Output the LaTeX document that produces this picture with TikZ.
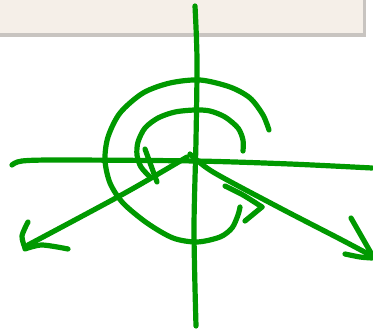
\documentclass[tikz,border=0pt]{standalone}
\begin{document}
\begin{tikzpicture}[x=1pt,y=-1pt]
\definecolor{pen}{RGB}{0,153,0}
\definecolor{boxfill}{RGB}{245,239,232}
\definecolor{boxedge}{RGB}{200,196,192}
\tikzset{ink/.style={draw=pen,line width=5.2pt,line cap=round,line join=round}}
\useasboundingbox (0,0) rectangle (373,331);
\fill[white] (0,0) rectangle (373,331);
% top box
\fill[boxedge] (-5,-5) rectangle (366,37);
\fill[boxfill] (-5,-5) rectangle (363,33);
% vertical axis
\draw[ink] plot[smooth] coordinates {(195,6) (197,60) (196,140) (194,230) (196,326)};
% horizontal axis
\draw[ink] plot[smooth] coordinates {(12,165) (22,161) (60,160) (195,161) (290,164) (372,168)};
% left diagonal with arrow
\draw[ink] plot[smooth] coordinates {(187,157) (125,193) (28,245)};
\draw[ink] plot[smooth] coordinates {(28,222) (22,236) (25,248)};
\draw[ink] plot[smooth] coordinates {(25,249) (42,245) (68,249)};
% right diagonal with arrow
\draw[ink] plot[smooth] coordinates {(190,154) (213,172) (280,208) (340,239) (372,256)};
\draw[ink] (351,218) -- (371,253);
\draw[ink] plot[smooth] coordinates {(345,254) (360,257) (372,258)};
% outer spiral
\draw[ink] plot[smooth] coordinates {(269,130) (263,115) (250,98) (230,87) (200,80) (170,83) (143,93) (120,113) (108,137) (105,160) (110,183) (123,203) (147,223) (173,238) (197,242) (220,237) (232,228) (238,215) (240,207)};
% inner spiral
\draw[ink] plot[smooth] coordinates {(243,151) (243,140) (238,128) (225,117) (210,111) (195,110) (175,112) (158,118) (145,128) (138,142) (137,155) (141,167) (150,177)};
\draw[ink] (145,149) -- (157,182);
% small chevron
\draw[ink] plot[smooth] coordinates {(225,186) (243,195) (262,207)};
\draw[ink] (262,207) -- (245,221);
\end{tikzpicture}
\end{document}
